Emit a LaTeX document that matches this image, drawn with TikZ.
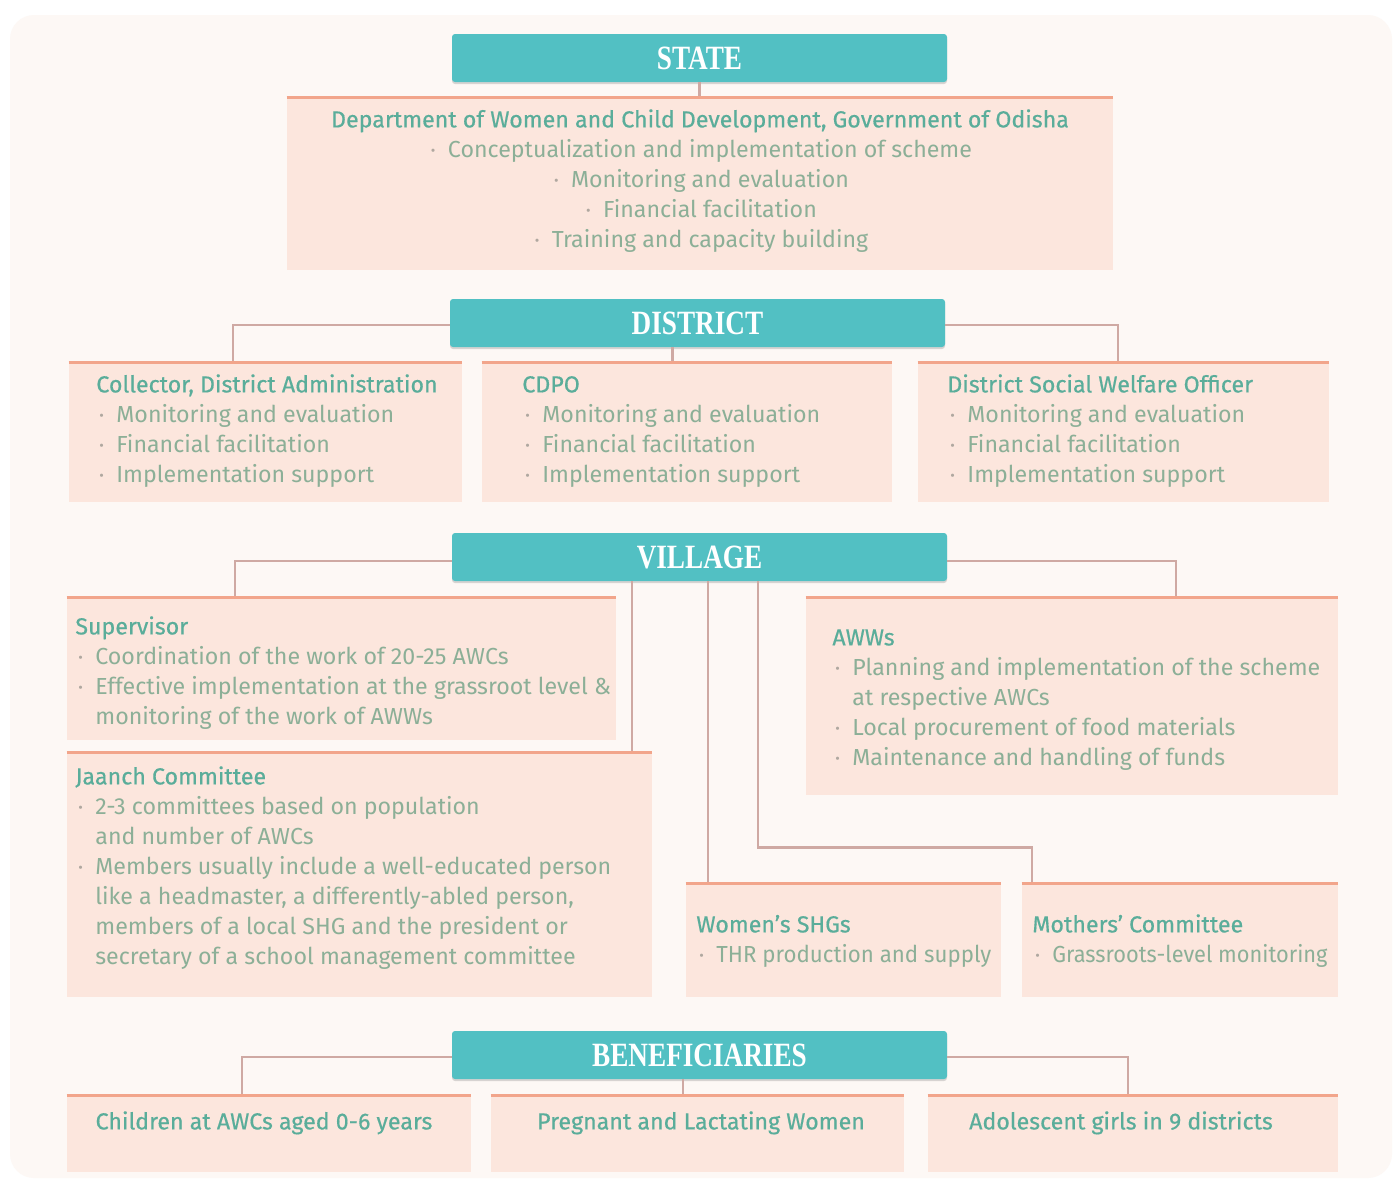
\documentclass[tikz,border=0pt]{standalone}
\usepackage{fontspec}
\setmainfont{Fira Sans}
\newfontfamily\ttlfont[FakeBold=0.5]{Fira Sans}
\newfontfamily\hdfont[FakeStretch=0.8]{Liberation Serif}
\usetikzlibrary{fit,calc,shadows}

\definecolor{cardbg}{HTML}{FDF8F5}
\definecolor{boxfill}{HTML}{FCE6DD}
\definecolor{boxrule}{HTML}{F2A58B}
\definecolor{hdrfill}{HTML}{52C0C3}
\definecolor{linkc}{HTML}{CFA9A3}
\definecolor{ttl}{HTML}{5AAD9A}
\definecolor{txt}{HTML}{8CAF97}
\definecolor{dotc}{HTML}{B0A8A0}

% bullet mark, continuation indent, box titles and narrowed lines
\newcommand\bul{\hspace*{1.5pt}\makebox[8.5pt][l]{\textcolor{dotc}{\raisebox{0.15ex}{\scalebox{0.6}{•}}}}}
\newcommand\cont{\hspace*{10pt}}
\newcommand\hd[1]{{\ttlfont\color{ttl}#1}}
\newcommand\narrow[2]{\scalebox{#1}[1]{#2}}

\begin{document}
\begin{tikzpicture}[x=0.5pt,y=-0.5pt,
  hdr/.style={fill=hdrfill, rounded corners=1.5pt, inner sep=0pt,
    drop shadow={shadow xshift=0pt, shadow yshift=-1pt, opacity=0.25, fill=black!60}},
  hdrtxt/.style={inner sep=0pt, text=white,
    font=\hdfont\bfseries\fontsize{17}{18}\selectfont},
  box/.style={fill=boxfill, inner sep=0pt, draw=none},
  toprule/.style={draw=boxrule, line width=1.5pt},
  conn/.style={draw=linkc, line width=1.2pt},
  txtl/.style={inner sep=0pt, align=left, anchor=north west, text=txt,
    font=\fontsize{11.6}{15}\selectfont},
  txtc/.style={inner sep=0pt, align=center, anchor=north, text=txt,
    font=\fontsize{11.6}{15}\selectfont}]

\useasboundingbox (0,0) rectangle (1394,1180);
\fill[white] (0,0) rectangle (1394,1180);
\fill[cardbg, rounded corners=12pt] (10,15) rectangle (1392,1178);

% ---------- level headers ----------
\node[hdr, fit={(452,34) (947,82)}] (state) {};
\node[hdr, fit={(450,299) (945,347)}] (dist) {};
\node[hdr, fit={(452,533) (947,581)}] (vill) {};
\node[hdr, fit={(452,1031) (947,1079)}] (bene) {};
\node[hdrtxt] (statehd) at (state.center) {STATE};
\node[hdrtxt] (disthd) at (dist.center) {DISTRICT};
\node[hdrtxt] (villhd) at (vill.center) {VILLAGE};
\node[hdrtxt] (benehd) at (bene.center) {BENEFICIARIES};

% ---------- content boxes ----------
\node[box, fit={(287,98) (1113,270)}] (dwcd) {};
\node[box, fit={(69,363) (462,502)}] (coll) {};
\node[box, fit={(482,363) (892,502)}] (cdpo) {};
\node[box, fit={(918,363) (1329,502)}] (dswo) {};
\node[box, fit={(67,598) (616,740)}] (sup) {};
\node[box, fit={(806,598) (1338,795)}] (aww) {};
\node[box, fit={(67,753) (652,997)}] (jaanch) {};
\node[box, fit={(686,884) (1001,997)}] (shg) {};
\node[box, fit={(1022,884) (1338,997)}] (moth) {};
\node[box, fit={(67,1096) (471,1172)}] (child) {};
\node[box, fit={(491,1096) (904,1172)}] (preg) {};
\node[box, fit={(928,1096) (1338,1172)}] (adol) {};

% ---------- connectors ----------
\draw[conn] (state.south) -- (state.south |- dwcd.north);

\coordinate (collTop) at (233,363);
\coordinate (dswoTop) at (1118,363);
\draw[conn] ([yshift=-1pt]dist.west) -| (collTop);
\draw[conn] ([yshift=-1pt]dist.east) -| (dswoTop);
\draw[conn] ($(dist.south)+(-25,0)$) coordinate (d2) -- (d2 |- cdpo.north);

\coordinate (supTop) at (235,598);
\coordinate (awwTop) at (1176,598);
\draw[conn] ([yshift=-2pt]vill.west) -| (supTop);
\draw[conn] ([yshift=-2pt]vill.east) -| (awwTop);
\draw[conn] ($(vill.south)+(-67.5,0)$) coordinate (v1) -- (v1 |- jaanch.north);
\draw[conn] ($(vill.south)+(8.5,0)$) coordinate (v2) -- (v2 |- shg.north);
\coordinate (mothTop) at (1032,884);
\draw[conn] ($(vill.south)+(58.5,0)$) -- ++(0,266) -| (mothTop);

\coordinate (childTop) at (242,1096);
\coordinate (adolTop) at (1128,1096);
\draw[conn] ([yshift=-1pt]bene.west) -| (childTop);
\draw[conn] ([yshift=-1pt]bene.east) -| (adolTop);
\draw[conn] ($(bene.south)+(-16.5,0)$) coordinate (b2) -- (b2 |- preg.north);

% ---------- top rules of the boxes ----------
\foreach \b in {dwcd,coll,cdpo,dswo,sup,aww,jaanch,shg,moth,child,preg,adol}
  \draw[toprule] (\b.north west) -- (\b.north east);

% ---------- box texts ----------
\node[txtc] (dwcdtxt) at (700,106) {\strut\hd{Department of Women and Child Development, Government of Odisha}\\
  \bul Conceptualization and implementation of scheme\\
  \bul Monitoring and evaluation\\
  \bul Financial facilitation\\
  \bul Training and capacity building};

\node[txtl] (colltxt) at (96,371) {\strut\hd{Collector, District Administration}\\
  \bul Monitoring and evaluation\\
  \bul Financial facilitation\\
  \bul Implementation support};

\node[txtl] (cdpotxt) at (522,371) {\strut\hd{CDPO}\\
  \bul Monitoring and evaluation\\
  \bul Financial facilitation\\
  \bul Implementation support};

\node[txtl] (dswotxt) at (947,371) {\strut\hd{District Social Welfare Officer}\\
  \bul Monitoring and evaluation\\
  \bul Financial facilitation\\
  \bul Implementation support};

\node[txtl] (suptxt) at (75,613) {\strut\hd{Supervisor}\\
  \bul Coordination of the work of 20-25 AWCs\\
  \bul Effective implementation at the grassroot level \&\\
  \cont monitoring of the work of AWWs};

\node[txtl] (awwtxt) at (832,624) {\strut\hd{AWWs}\\
  \bul Planning and implementation of the scheme\\
  \cont at respective AWCs\\
  \bul Local procurement of food materials\\
  \bul Maintenance and handling of funds};

\node[txtl] (jaanchtxt) at (75,763) {\strut\hd{Jaanch Committee}\\
  \bul 2-3 committees based on population\\
  \cont and number of AWCs\\
  \bul Members usually include a well-educated person\\
  \cont like a headmaster, a differently-abled person,\\
  \cont members of a local SHG and the president or\\
  \cont secretary of a school management committee};

\node[txtl] (shgtxt) at (696,911) {\strut\hd{Women’s SHGs}\\
  \bul \narrow{0.96}{THR production and supply}};

\node[txtl] (mothtxt) at (1032,911) {\strut\hd{Mothers’ Committee}\\
  \bul \narrow{0.94}{Grassroots-level monitoring}};

\node[txtc] (childtxt) at (264,1108) {\strut\hd{Children at AWCs aged 0-6 years}};
\node[txtc] (pregtxt) at (701,1108) {\strut\hd{Pregnant and Lactating Women}};
\node[txtc] (adoltxt) at (1121,1108) {\strut\hd{Adolescent girls in 9 districts}};

\end{tikzpicture}
\end{document}
